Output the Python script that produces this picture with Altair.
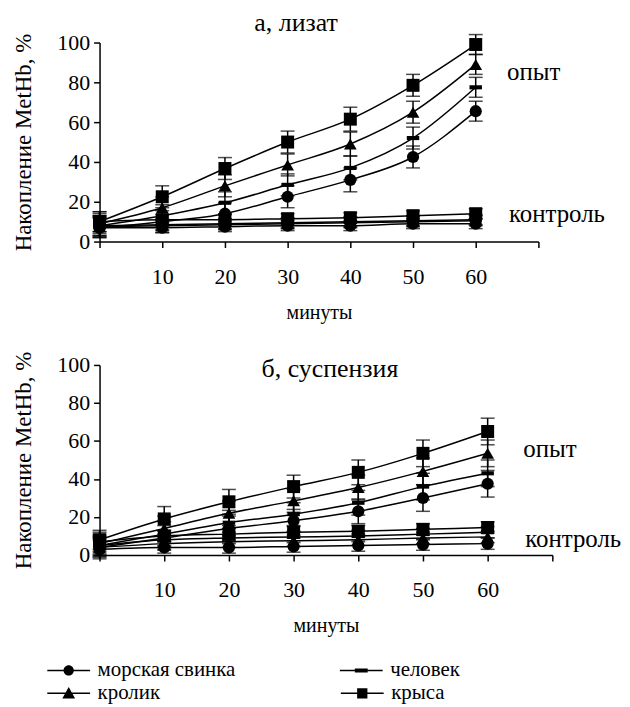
import altair as alt
import pandas as pd

minutes = [0, 10, 20, 30, 40, 50, 60]
species = ["морская свинка", "человек", "кролик", "крыса"]
legend_row1 = ["морская свинка", "человек"]
legend_row2 = ["кролик", "крыса"]
y_ticks = [0, 20, 40, 60, 80, 100]
x_ticks = [0, 10, 20, 30, 40, 50, 60, 70]

# panel а, лизат — experiment (опыт)
a_guinea_exp = [7, 10, 14, 22.5, 31, 42.5, 65.5]
a_human_exp = [8, 13, 19.5, 28.5, 37, 52, 77.5]
a_rabbit_exp = [9, 17, 28, 38.5, 49, 65, 89]
a_rat_exp = [10, 22.5, 36.7, 50, 61.5, 78.5, 99]
a_exp_err = [5, 5.5, 5.5, 5.5, 6, 5.5, 5]
# panel а — control (контроль)
a_guinea_ctl = [7, 7, 7.5, 8, 8, 9, 9]
a_human_ctl = [8, 8.5, 9, 9.5, 10, 10.5, 11]
a_rabbit_ctl = [7.5, 8, 8.5, 9, 9.5, 10, 10.5]
a_rat_ctl = [10, 11, 11, 11.5, 12, 13, 14]
a_ctl_err = [5, 2.5, 2.5, 2.5, 2.5, 2.5, 2.5]

# panel б, суспензия — experiment
b_guinea_exp = [4, 9, 14, 18, 23, 30, 37.5]
b_human_exp = [5, 11, 17, 21.5, 27.5, 36, 43]
b_rabbit_exp = [6, 14, 22, 28.5, 35.5, 44, 53.5]
b_rat_exp = [8, 19, 28, 36, 43.5, 53.5, 65]
b_exp_err = [5, 6.5, 6.5, 6, 6.5, 7, 7]
# panel б — control
b_guinea_ctl = [3, 4, 4, 4.5, 5, 5.5, 6]
b_human_ctl = [5, 8, 9, 9.5, 10, 11, 12]
b_rabbit_ctl = [4, 6, 7, 7.5, 8, 9, 9.5]
b_rat_ctl = [7, 10, 11, 12, 12.5, 13.5, 14.5]
b_ctl_err = [5, 3, 3, 3, 3, 3, 3]

# annotation labels
note_text = ["опыт", "контроль"]
a_note_x = [65, 65.3]
a_note_y = [85, 14]
b_note_x = [65.5, 65.8]
b_note_y = [56, 8.5]

FONT = "Liberation Serif"


def build(series, err_exp, err_ctl):
    rows = []
    for sp, (exp, ctl) in zip(species, series):
        for grp, vals, errs in (("опыт", exp, err_exp), ("контроль", ctl, err_ctl)):
            for m, v, e in zip(minutes, vals, errs):
                rows.append({"species": sp, "group": grp, "minute": m,
                             "value": v, "lo": v - e, "hi": v + e,
                             "leg1": sp, "leg2": sp})
    return pd.DataFrame(rows)


df_a = build([(a_guinea_exp, a_guinea_ctl), (a_human_exp, a_human_ctl),
              (a_rabbit_exp, a_rabbit_ctl), (a_rat_exp, a_rat_ctl)],
             a_exp_err, a_ctl_err)
df_b = build([(b_guinea_exp, b_guinea_ctl), (b_human_exp, b_human_ctl),
              (b_rabbit_exp, b_rabbit_ctl), (b_rat_exp, b_rat_ctl)],
             b_exp_err, b_ctl_err)

human_path = "M-1,-0.33H1V0.33H-1Z"
point_shapes = ["circle", human_path, "triangle-up", "square"]
point_sizes = [150, 170, 150, 170]

LINE = "M-1,-0.035H1V0.035H-1Z"
shape_circle = LINE + "M0.24,0A0.24,0.24,0,1,1,-0.24,0A0.24,0.24,0,1,1,0.24,0Z"
shape_dash = LINE + "M-0.3,-0.09H0.3V0.09H-0.3Z"
shape_tri = LINE + "M0,-0.3L0.3,0.24L-0.3,0.24Z"
shape_square = LINE + "M-0.24,-0.24H0.24V0.24H-0.24Z"

XS = alt.Scale(domain=[0, 70], nice=False)
YS = alt.Scale(domain=[0, 100], nice=False)
XAX = alt.Axis(values=x_ticks,
               labelExpr="datum.value == 0 || datum.value == 70 ? '' : datum.label",
               title="минуты", grid=False, labelOverlap=False)
YAX = alt.Axis(values=y_ticks, title="Накопление MetHb, %", grid=False,
               labelOverlap=False, labelBound=False)


def xq(f):
    return alt.X(f"{f}:Q", scale=XS, axis=XAX)


def yq(f):
    return alt.Y(f"{f}:Q", scale=YS, axis=YAX)


def legend_layer(base, field, domain, shapes, ly, col_pad):
    return base.transform_filter(
        alt.FieldOneOfPredicate(field=field, oneOf=domain)
    ).mark_point(filled=True, color="black", opacity=0).encode(
        x=xq("minute"), y=yq("value"),
        shape=alt.Shape(f"{field}:N",
                        scale=alt.Scale(domain=domain, range=shapes),
                        legend=alt.Legend(orient="none", legendX=-53, legendY=ly,
                                          columns=2, title=None, columnPadding=col_pad,
                                          padding=0, labelOffset=7,
                                          labelFont=FONT, labelFontSize=21,
                                          labelColor="black", symbolSize=1850,
                                          symbolOpacity=1, symbolFillColor="black",
                                          symbolStrokeColor="black", symbolStrokeWidth=0,
                                          labelLimit=300)))


def panel(df, nx, ny, title, title_dx, title_offset, width, height, with_legend):
    base = alt.Chart(df)
    lines = base.mark_line(interpolate="monotone", color="black", strokeWidth=1.5).encode(
        x=xq("minute"), y=yq("value"), detail=["species:N", "group:N"])
    rules = base.mark_rule(color="black", strokeWidth=1.5).encode(
        x=xq("minute"), y=yq("lo"), y2="hi:Q")
    cap_lo = base.mark_tick(color="black", orient="horizontal", size=14, thickness=1.5).encode(
        x=xq("minute"), y=yq("lo"))
    cap_hi = base.mark_tick(color="black", orient="horizontal", size=14, thickness=1.5).encode(
        x=xq("minute"), y=yq("hi"))
    pts = base.mark_point(filled=True, color="black", opacity=1).encode(
        x=xq("minute"), y=yq("value"),
        shape=alt.Shape("species:N", scale=alt.Scale(domain=species, range=point_shapes), legend=None),
        size=alt.Size("species:N", scale=alt.Scale(domain=species, range=point_sizes), legend=None))
    notes = alt.Chart(pd.DataFrame({"t": note_text, "x": nx, "y": ny})).mark_text(
        align="left", baseline="middle", font=FONT, fontSize=25, color="black").encode(
        x=xq("x"), y=yq("y"), text="t:N")
    layers = [lines, rules, cap_lo, cap_hi, pts, notes]
    if with_legend:
        layers.append(legend_layer(base, "leg1", legend_row1, [shape_circle, shape_dash], 285, 104))
        layers.append(legend_layer(base, "leg2", legend_row2, [shape_tri, shape_square], 308, 181))
    ch = alt.layer(*layers).properties(
        width=width, height=height,
        title=alt.TitleParams(title, font=FONT, fontSize=26, fontWeight="normal", color="black",
                              anchor="middle", frame="group", dx=title_dx, offset=title_offset))
    if with_legend:
        ch = ch.resolve_scale(shape="independent", size="independent")
    return ch


top = panel(df_a, a_note_x, a_note_y, "а, лизат", -23, -4, 441, 200, False)
bottom = panel(df_b, b_note_x, b_note_y, "б, суспензия", 4, -31, 455, 191, True)

chart = alt.vconcat(top, bottom, spacing=29).properties(
    padding={"left": 5, "top": 0, "right": 0, "bottom": 0}).configure_view(
    stroke=None).configure_axis(
    labelFont=FONT, titleFont=FONT, labelFontSize=22, titleFontSize=20,
    labelColor="black", titleColor="black", titleFontWeight="normal",
    domainColor="black", tickColor="black", domainWidth=1.5, tickWidth=1.5, tickSize=6,
    labelOverlap=False,
).configure_axisY(titlePadding=21, labelPadding=4, titleFontSize=23,
                  labelOverlap=False).configure_axisX(
    labelPadding=19, titlePadding=15)

chart.save("out.html", embed_options={"renderer": "svg", "actions": False})
